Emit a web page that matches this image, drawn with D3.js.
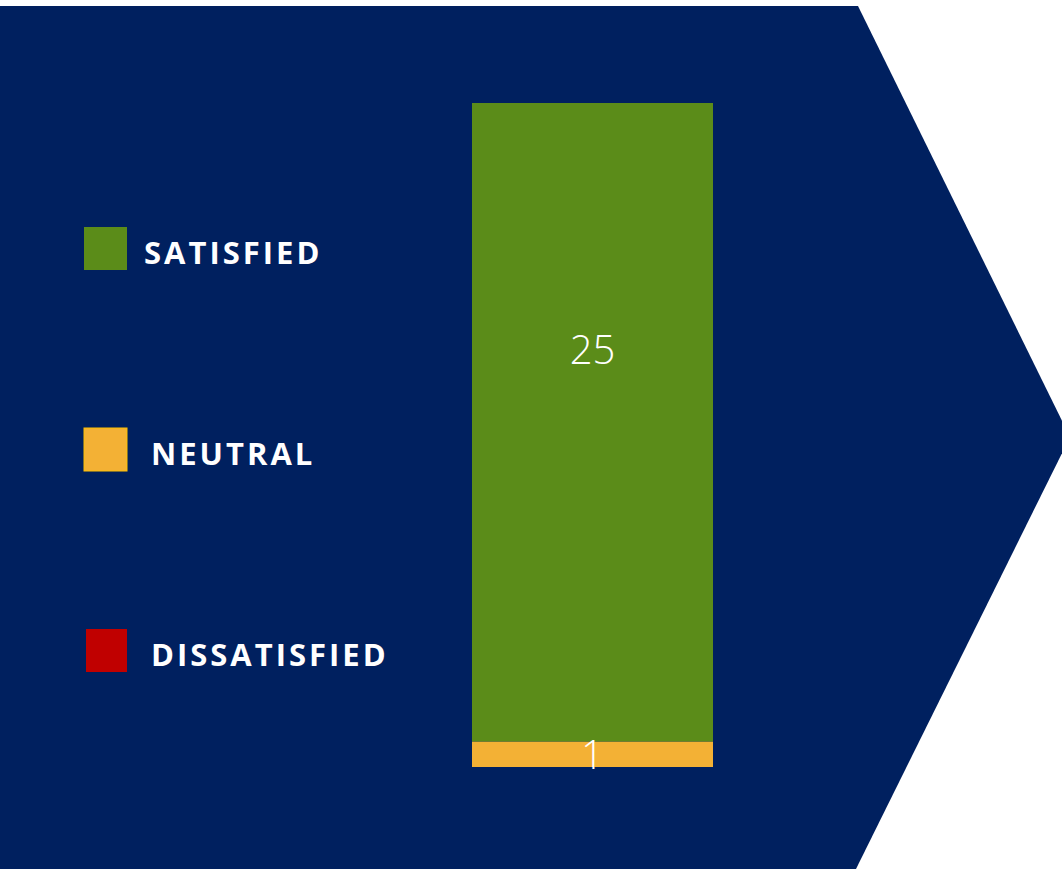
<!DOCTYPE html>
<html>
<head>
<meta charset="utf-8">
<script src="https://cdn.jsdelivr.net/npm/d3@7"></script>
<style>
  body { margin: 0; background: #ffffff; }
  svg { display: block; }
</style>
</head>
<body>
<div id="chart"></div>
<script>
// data
let categories = ["SATISFIED", "NEUTRAL", "DISSATISFIED"];
let values = [25, 1, 0];
let colors = ["#5B8C19", "#F3B135", "#C00000"];
let barGroup = ["Total"];

let width = 1062, height = 869;

let svg = d3.select("#chart").append("svg")
  .attr("width", width)
  .attr("height", height);

// arrow shaped background
svg.append("polygon")
  .attr("points", [[0, 6], [858, 6], [1070, 437], [856, 869], [0, 869]].map(p => p.join(",")).join(" "))
  .attr("fill", "#00205F");

// scales
let x = d3.scaleBand()
  .domain(barGroup)
  .range([472, 713])
  .padding(0);

let y = d3.scaleLinear()
  .domain([0, d3.sum(values)])
  .range([767, 103]);

// stack from bottom: dissatisfied, neutral, satisfied
let stackOrder = [2, 1, 0];
let segs = [];
let acc = 0;
stackOrder.forEach(i => {
  segs.push({cat: categories[i], v: values[i], y0: acc, y1: acc + values[i], color: colors[i]});
  acc += values[i];
});

svg.selectAll(".seg")
  .data(segs.filter(d => d.v > 0))
  .enter()
  .append("rect")
  .attr("class", "seg")
  .attr("x", x("Total"))
  .attr("width", x.bandwidth())
  .attr("y", d => y(d.y1))
  .attr("height", d => y(d.y0) - y(d.y1))
  .attr("fill", d => d.color);

svg.selectAll(".seg-label")
  .data(segs.filter(d => d.v > 0))
  .enter()
  .append("text")
  .attr("class", "seg-label")
  .attr("x", x("Total") + x.bandwidth() / 2)
  .attr("y", d => d.v > 2 ? y(d.y1) + 247 : (y(d.y0) + y(d.y1)) / 2)
  .attr("dy", "0.36em")
  .attr("text-anchor", "middle")
  .attr("fill", "#ffffff")
  .style("font-family", "'Open Sans', 'Noto Sans', sans-serif")
  .style("font-weight", 300)
  .style("font-size", "40px")
  .text(d => d.v);

// legend
let legendY = d3.scalePoint()
  .domain(categories)
  .range([248, 650]);

let legend = svg.selectAll(".legend")
  .data(categories)
  .enter()
  .append("g")
  .attr("class", "legend")
  .attr("transform", d => "translate(0," + legendY(d) + ")");

legend.append("rect")
  .attr("x", (d, i) => i == 2 ? 86 : 84)
  .attr("y", -21)
  .attr("width", (d, i) => i == 2 ? 41 : 43)
  .attr("height", 43)
  .attr("fill", (d, i) => colors[i])
  .attr("stroke", (d, i) => i == 1 ? "#FFC000" : "none")
  .attr("stroke-width", 1);

legend.append("text")
  .attr("x", (d, i) => i == 0 ? 144 : 151)
  .attr("y", 16)
  .attr("fill", "#ffffff")
  .style("font-family", "'Open Sans', 'Noto Sans', sans-serif")
  .style("font-weight", "bold")
  .style("font-size", "31px")
  .style("letter-spacing", "3px")
  .text(d => d);
</script>
</body>
</html>
